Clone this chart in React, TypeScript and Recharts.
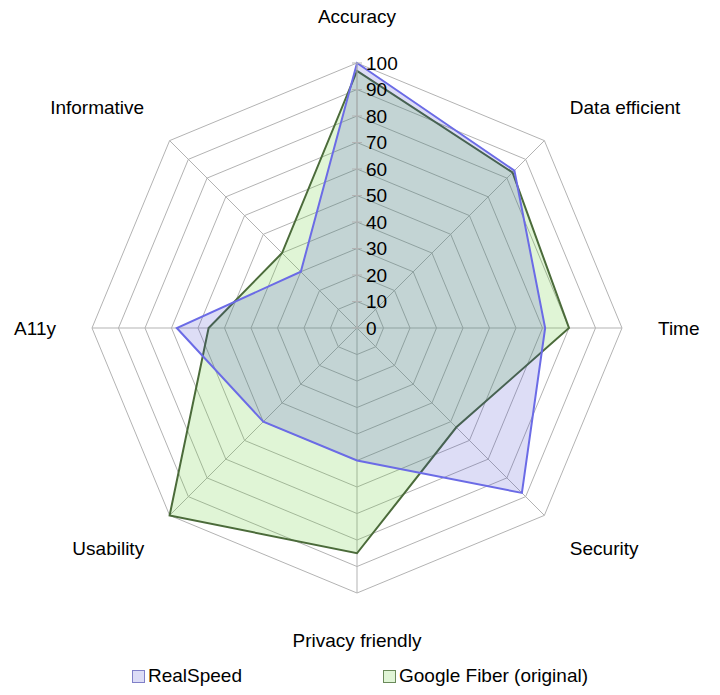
import { Legend, PolarAngleAxis, PolarGrid, PolarRadiusAxis, Radar, RadarChart } from "recharts"

const categories = ["Accuracy", "Data efficient", "Time", "Security", "Privacy friendly", "Usability", "A11y", "Informative"]
const realSpeed = [100, 84, 71, 88, 50, 50, 68, 30]
const googleFiber = [97, 83, 80, 53, 85, 100, 56, 40]
const radiusTicks = [0, 10, 20, 30, 40, 50, 60, 70, 80, 90, 100]
const seriesNames = ["RealSpeed", "Google Fiber (original)"]

const CX = 357
const CY = 328
const FONT = "'Liberation Sans', Arial, sans-serif"

const data = categories.map((name, i) => ({
    name,
    realSpeed: realSpeed[i],
    googleFiber: googleFiber[i],
}))

// angle labels sit further out than recharts' default
const AngleTick = (props: any) => {
    const { payload } = props
    const rad = (payload.coordinate * Math.PI) / 180
    const cos = Math.cos(rad)
    const sin = Math.sin(rad)
    const x = CX + cos * 301
    const y = CY - sin * 312
    const anchor = cos > 0.1 ? "start" : cos < -0.1 ? "end" : "middle"
    return (
        <text x={x} y={y} textAnchor={anchor} dominantBaseline="central" fontSize={19} fontFamily={FONT} fill="#000">
            {payload.value}
        </text>
    )
}

const RadiusTick = (props: any) => {
    const { x, y, payload } = props
    return (
        <g>
            <line x1={x - 5} x2={x + 5} y1={y} y2={y} stroke="#b3b3b3" />
            <text x={x + 9} y={y} textAnchor="start" dominantBaseline="central" fontSize={19} fontFamily={FONT} fill="#000">
                {payload.value}
            </text>
        </g>
    )
}

const swatches = [
    { fill: "#dcdcf6", stroke: "#8080c8" },
    { fill: "#e0f5d6", stroke: "#6a8a5a" },
]

const LegendContent = () => (
    <div style={{ display: "flex", justifyContent: "center", gap: 141, fontFamily: FONT, fontSize: 19 }}>
        {seriesNames.map((name, i) => (
            <div key={name} style={{ display: "flex", alignItems: "center" }}>
                <span
                    style={{
                        display: "inline-block",
                        width: 11,
                        height: 11,
                        background: swatches[i].fill,
                        border: `1px solid ${swatches[i].stroke}`,
                        marginRight: 3,
                    }}
                />
                <span>{name}</span>
            </div>
        ))}
    </div>
)

export default function App() {
    return (
        <div style={{ position: "absolute", left: 0, top: 0, width: 720, height: 695, background: "#fff" }}>
            <RadarChart width={720} height={695} data={data} cx={CX} cy={CY} outerRadius={265} margin={{ top: 0, right: 0, bottom: 0, left: 0 }}>
                <PolarGrid gridType="polygon" stroke="#b3b3b3" />
                <PolarAngleAxis dataKey="name" tick={<AngleTick />} axisLine={false} tickLine={false} />
                <PolarRadiusAxis
                    angle={90}
                    domain={[0, 100]}
                    ticks={radiusTicks}
                    tick={<RadiusTick />}
                    axisLine={{ stroke: "#b3b3b3" }}
                    tickLine={false}
                />
                <Radar
                    name={seriesNames[1]}
                    dataKey="googleFiber"
                    stroke="#4b6b3a"
                    strokeWidth={2}
                    fill="#66cc33"
                    fillOpacity={0.2}
                    isAnimationActive={false}
                />
                <Radar
                    name={seriesNames[0]}
                    dataKey="realSpeed"
                    stroke="#6b6be6"
                    strokeWidth={2}
                    fill="#3333cc"
                    fillOpacity={0.17}
                    isAnimationActive={false}
                />
                <Legend content={<LegendContent />} wrapperStyle={{ position: "absolute", left: 0, top: 665, width: 720 }} />
            </RadarChart>
        </div>
    )
}
